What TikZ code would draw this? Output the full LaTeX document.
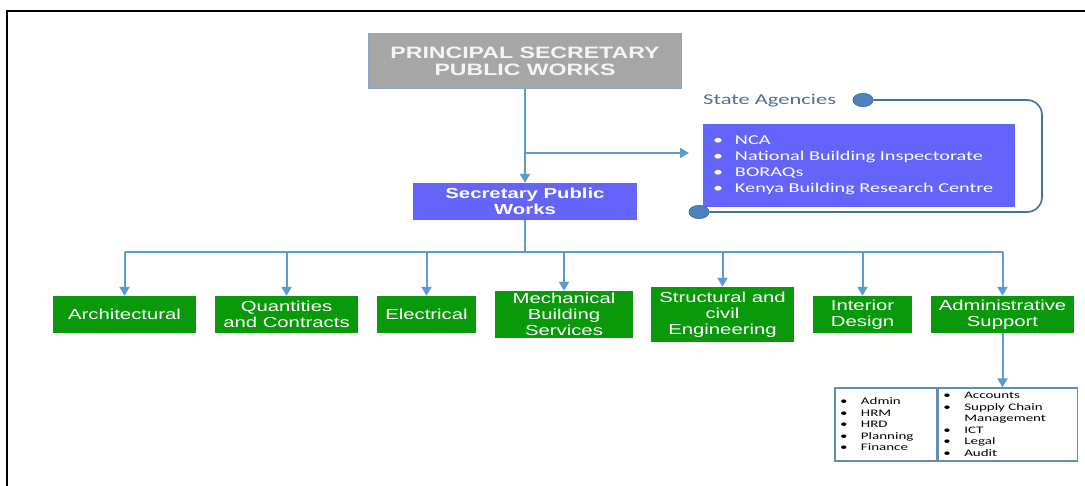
\documentclass[tikz,border=0pt]{standalone}
\usepackage{fontspec}
\setmainfont{Liberation Sans}
\newfontfamily\wsans[FakeStretch=1.4]{Liberation Sans}
\newfontfamily\wcal[FakeStretch=1.5]{Carlito}
\usetikzlibrary{arrows.meta,shapes.geometric}
\definecolor{conn}{RGB}{91,155,213}
\definecolor{agline}{RGB}{70,110,160}
\definecolor{dotc}{RGB}{79,129,189}
\definecolor{psgray}{RGB}{166,166,166}
\definecolor{psborder}{RGB}{140,165,195}
\definecolor{purp}{RGB}{100,100,250}
\definecolor{grn}{RGB}{10,153,10}
\definecolor{tabb}{RGB}{100,140,185}
\definecolor{agtext}{RGB}{85,110,145}
\newcommand\myitem[1]{\makebox[22pt][l]{\textbullet}#1\\}
\newcommand\tabitem[1]{\makebox[21pt][l]{\textbullet}#1\\}
\begin{document}
\begin{tikzpicture}[x=1pt,y=-1pt,
  box/.style={rectangle, inner sep=0pt, align=center, text=white},
  psbox/.style={box, fill=psgray, draw=psborder, line width=1pt,
    font=\wsans\bfseries\fontsize{16.5}{17}\selectfont, text={rgb,255:red,245;green,245;blue,245}},
  secbox/.style={box, fill=purp, font=\wsans\bfseries\fontsize{14.5}{16}\selectfont},
  gbox/.style={box, fill=grn, font=\wsans\fontsize{14.5}{16}\selectfont},
  agbox/.style={rectangle, fill=purp, text=white, align=left, inner xsep=10pt, inner ysep=0pt,
    text width=292pt, minimum height=83pt, font=\wcal\fontsize{13.5}{16}\selectfont},
  tcol/.style={rectangle, draw=tabb, line width=1.3pt, align=left, inner xsep=5pt, inner ysep=0pt,
    minimum height=73pt, font=\wcal\fontsize{10}{11.5}\selectfont},
  conline/.style={draw=conn, line width=2pt},
  arr/.style={conline, -{Triangle[length=9pt,width=10pt]}},
  dot/.style={ellipse, fill=dotc, draw=agline, line width=0.6pt, minimum width=20pt, minimum height=13pt, inner sep=0pt},
  agl/.style={draw=agline, line width=1.6pt, rounded corners=15pt}
]
\useasboundingbox (0,0) rectangle (1085,486);
\fill[white] (0,0) rectangle (1085,486);
\draw[line width=2pt] (7,486) -- (7,11) -- (1085,11);

% top
\node[psbox, minimum width=313pt, minimum height=55pt] (ps) at (525,61.5) {PRINCIPAL SECRETARY\\PUBLIC WORKS};
\node[secbox, minimum width=224pt, minimum height=37pt] (sec) at (525,201.5) {Secretary Public\\Works};

% agencies
\node[agbox] (ag) at (859,165.5) {\myitem{NCA}\myitem{National Building Inspectorate}\myitem{BORAQs}\makebox[22pt][l]{\textbullet}Kenya Building Research Centre};
\node[anchor=west, inner sep=0pt, text=agtext, font=\wcal\fontsize{15}{16}\selectfont] (aglabel) at (703,101) {State Agencies};
\coordinate (c1) at (1042,100);
\coordinate (c2) at (1042,212);
\node[dot] (d1) at (863,100) {};
\node[dot] (d2) at (699,212) {};
\draw[agl] (d1.east) -- (c1) -- (c2) -- (d2.east);
\node[dot] at (d1) {};
\node[dot] at (d2) {};

% connectors top
\coordinate (j) at (525,153);
\coordinate (agtip) at (689,153);
\draw[arr] (ps.south) -- (sec.north);
\draw[arr] (j) -- (agtip);

% departments
\node[gbox, minimum width=143pt, minimum height=37pt] (arch) at (124.5,314.5) {Architectural};
\node[gbox, minimum width=143pt, minimum height=37pt] (qty) at (286.5,314.5) {Quantities\\and Contracts};
\node[gbox, minimum width=99pt, minimum height=37pt] (elec) at (426.5,314.5) {Electrical};
\node[gbox, minimum width=138pt, minimum height=47pt] (mech) at (564,314.5) {Mechanical\\Building\\Services};
\node[gbox, minimum width=143pt, minimum height=55pt] (struct) at (722.5,314.5) {Structural and\\civil\\Engineering};
\node[gbox, minimum width=99pt, minimum height=37pt] (inter) at (862.5,314.5) {Interior\\Design};
\node[gbox, minimum width=143pt, minimum height=37pt] (admin) at (1002.5,314.5) {Administrative\\Support};

\coordinate (bus) at (525,252);
\draw[conline] (sec.south) -- (bus);
\draw[conline] (arch.north |- bus) -- (admin.north |- bus);
\foreach \n in {arch,qty,elec,mech,struct,inter,admin}{
  \draw[arr] (\n.north |- bus) -- (\n.north);
}

% admin table
\node[tcol, text width=92pt] (tl) at (886,424.5) {\tabitem{Admin}\tabitem{HRM}\tabitem{HRD}\tabitem{Planning}\makebox[21pt][l]{\textbullet}Finance};
\node[tcol, text width=129pt, anchor=west] (tr) at (tl.east) {\tabitem{Accounts}\tabitem{Supply Chain}\hspace*{21pt}Management\\\tabitem{ICT}\tabitem{Legal}\makebox[21pt][l]{\textbullet}Audit};
\draw[arr] (admin.south) -- (admin.south |- tr.north);
\end{tikzpicture}
\end{document}
